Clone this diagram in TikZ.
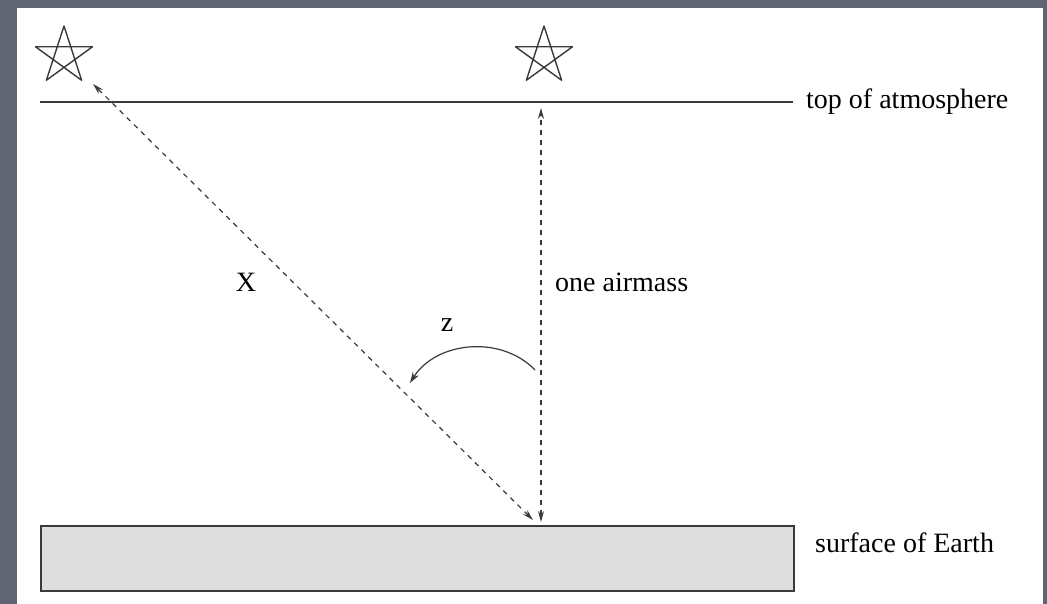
\documentclass[tikz,border=0pt]{standalone}
\usepackage{fontspec}
\setmainfont{Liberation Serif}
\usetikzlibrary{positioning,arrows.meta}
\definecolor{slate}{HTML}{5F6573}
\definecolor{ground}{HTML}{DEDEDE}
\definecolor{ink}{HTML}{3A3A3A}

\begin{document}
\begin{tikzpicture}[x=1bp, y=1bp,
  lbl/.style={font=\fontsize{28bp}{34bp}\selectfont, inner sep=0pt, anchor=west},
  ray/.style={draw=ink, line width=1.2bp, dash pattern=on 5bp off 5bp},
  tips/.style={{Stealth[length=11bp,width=6bp]}-{Stealth[length=11bp,width=6bp]}},
  pent/.style={draw=ink, line width=1.4bp, line join=round},
  arr/.style={-{Stealth[length=11bp,width=7bp]}, draw=ink, line width=1.2bp}
]

%% ── frame ───────────────────────────────────────────────────────────────
\fill[slate] (0,0) rectangle (1047,604);
\fill[white] (17,0) rectangle (1043,596);
\useasboundingbox (0,0) rectangle (1047,604);

%% ── nodes ───────────────────────────────────────────────────────────────
\coordinate (starL)  at (64,548);
\coordinate (starR)  at (544,548);
\coordinate (topL)   at (40,502);
\coordinate (topR)   at (793,502);
\node[lbl] (toa)     at (806,502) {top of atmosphere};

\node[draw=ink, fill=ground, line width=1.5bp, inner sep=0pt,
      minimum width=753bp, minimum height=65bp,
      anchor=south west] (earth) at (40,12) {};
\node[lbl] (soe)     at (815,61)  {surface of Earth};

% ray end points
\coordinate (foot)   at (541,82);
\coordinate (zenith) at (541,496);
\coordinate (footS)  at (533,84);
\coordinate (slant)  at (93,520);

% angle arrow
\coordinate (zfrom)  at (535,234);
\coordinate (zto)    at (410,221);

\node[lbl, anchor=center] (xlab) at (246,322) {X};
\node[lbl, anchor=center] (zlab) at (447,279) {z};
\node[lbl] (one)     at (555,322) {one airmass};

%% ── edges ───────────────────────────────────────────────────────────────
\draw[draw=ink, line width=1.6bp] (topL) -- (topR);
\draw[ray,tips] (footS) -- (slant);
\draw[ray,tips] (foot) -- (zenith);
\draw[arr] (zfrom) to[bend right=52] (zto);

% stars
\foreach \s in {starL,starR}
  \draw[pent, shift={(\s)}] (90:30) -- (234:30) -- (18:30)
       -- (162:30) -- (306:30) -- cycle;

\end{tikzpicture}
\end{document}
